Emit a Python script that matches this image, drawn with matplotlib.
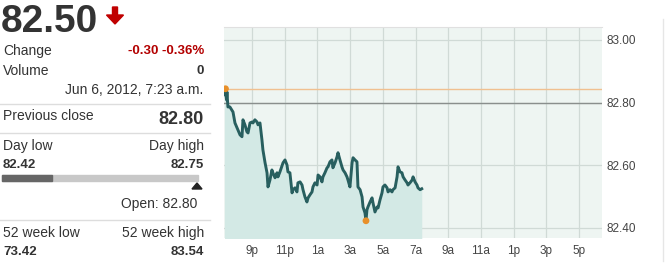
import matplotlib
matplotlib.use('Agg')
import matplotlib.pyplot as plt
from matplotlib.patches import Rectangle, FancyArrow, Polygon
from matplotlib.transforms import IdentityTransform

plt.rcParams['font.family'] = ['Liberation Sans', 'DejaVu Sans']

# intraday quote, hours since midnight of Jun 5 (24 = midnight)
hours = [19.32, 19.38, 19.44, 19.47, 19.53, 19.65, 19.84, 19.96, 20.14, 20.27,
         20.39, 20.45, 20.57, 20.69, 20.76, 20.88, 21.00, 21.06, 21.18, 21.31,
         21.37, 21.49, 21.61, 21.67, 21.80, 21.92, 21.98, 22.10, 22.22, 22.28,
         22.41, 22.53, 22.59, 22.71, 22.90, 23.02, 23.14, 23.20, 23.32, 23.45,
         23.51, 23.63, 23.75, 23.81, 23.94, 24.06, 24.12, 24.24, 24.36, 24.43,
         24.55, 24.67, 24.73, 24.85, 24.98, 25.04, 25.16, 25.28, 25.34, 25.46,
         25.59, 25.65, 25.77, 25.89, 25.95, 26.08, 26.20, 26.26, 26.38, 26.50,
         26.57, 26.69, 26.81, 26.87, 26.99, 27.12, 27.18, 27.30, 27.42, 27.48,
         27.61, 27.73, 27.79, 27.91, 27.97, 28.03, 28.09, 28.22, 28.34, 28.40,
         28.52, 28.65, 28.71, 28.83, 28.95, 29.01, 29.13, 29.26, 29.32, 29.44,
         29.56, 29.62, 29.75, 29.87, 29.93, 30.05, 30.17, 30.24, 30.36, 30.48,
         30.54, 30.66, 30.79, 30.85, 30.97, 31.09, 31.15, 31.28, 31.38]
prices = [82.825, 82.844, 82.809, 82.834, 82.786, 82.786, 82.770, 82.735, 82.713, 82.697,
          82.691, 82.745, 82.729, 82.707, 82.703, 82.735, 82.738, 82.735, 82.745, 82.738,
          82.729, 82.735, 82.681, 82.649, 82.608, 82.576, 82.531, 82.553, 82.585, 82.576,
          82.560, 82.576, 82.563, 82.579, 82.608, 82.617, 82.601, 82.579, 82.576, 82.512,
          82.522, 82.528, 82.515, 82.544, 82.547, 82.537, 82.522, 82.499, 82.483, 82.496,
          82.506, 82.515, 82.531, 82.544, 82.537, 82.569, 82.563, 82.547, 82.563, 82.576,
          82.592, 82.595, 82.611, 82.617, 82.592, 82.608, 82.627, 82.640, 82.617, 82.595,
          82.585, 82.576, 82.563, 82.553, 82.531, 82.608, 82.624, 82.617, 82.611, 82.531,
          82.522, 82.499, 82.467, 82.448, 82.423, 82.458, 82.467, 82.483, 82.496, 82.480,
          82.451, 82.467, 82.464, 82.490, 82.512, 82.531, 82.537, 82.528, 82.515, 82.522,
          82.515, 82.522, 82.528, 82.563, 82.595, 82.579, 82.576, 82.563, 82.553, 82.544,
          82.537, 82.544, 82.553, 82.563, 82.547, 82.537, 82.528, 82.522, 82.525]
prev_close = 82.80
ref_level = 82.844
tick_hours = [21, 23, 25, 27, 29, 31, 33, 35, 37, 39, 41]
tick_labels = ['9p', '11p', '1a', '3a', '5a', '7a', '9a', '11a', '1p', '3p', '5p']
y_ticks = [82.40, 82.60, 82.80, 83.00]

W, H = 668, 266
fig = plt.figure(figsize=(W / 100, H / 100), dpi=100)
fig.patch.set_facecolor('white')


def px(x, y):
    return x / W, 1 - y / H


def txt(x, y, s, size=9, color='#333333', ha='left', weight='normal', va='center'):
    fx, fy = px(x, y)
    fig.text(fx, fy, s, fontsize=size, color=color, ha=ha, va=va, fontweight=weight)


# ---- left quote panel ----
txt(1, 32, '82.50', size=28, weight='bold', va='baseline')
fig.patches.append(FancyArrow(115, H - 7, 0, -17, width=5, head_width=17, head_length=9,
                              length_includes_head=True, color='#c00000',
                              transform=IdentityTransform(), figure=fig))
txt(3, 51, 'Change', size=10)
txt(204, 51, '-0.30 -0.36%', size=9.5, color='#b30000', ha='right', weight='bold')
txt(3, 71, 'Volume', size=10)
txt(204, 71, '0', size=9.5, ha='right', weight='bold')
txt(203, 90, 'Jun 6, 2012, 7:23 a.m.', size=10, ha='right')
txt(3, 116, 'Previous close', size=10)
txt(204, 119, '82.80', size=13, ha='right', weight='bold')
txt(3, 146, 'Day low', size=10)
txt(204, 146, 'Day high', size=10, ha='right')
txt(3, 165, '82.42', size=9.5, weight='bold')
txt(204, 165, '82.75', size=9.5, ha='right', weight='bold')
txt(197, 204, 'Open: 82.80', size=10, ha='right')
txt(3, 233, '52 week low', size=10)
txt(204, 233, '52 week high', size=10, ha='right')
txt(3, 252, '73.42', size=9.5, weight='bold')
txt(204, 252, '83.54', size=9.5, ha='right', weight='bold')

for yy in [104, 133, 220]:
    fig.lines.append(plt.Line2D([0, 210 / W], [1 - yy / H] * 2, color='#dddddd', lw=1,
                                transform=fig.transFigure, figure=fig))

bx, by = px(2, 181)
fig.patches.append(Rectangle((bx, by), 196 / W, 6 / H, color='#c8c8c8',
                             transform=fig.transFigure, figure=fig))
fig.patches.append(Rectangle((bx, by), 50 / W, 6 / H, color='#666666',
                             transform=fig.transFigure, figure=fig))
fig.patches.append(Polygon([(192, H - 189), (202, H - 189), (197, H - 183)], closed=True,
                           color='#222222', transform=IdentityTransform(), figure=fig))

# ---- chart ----
l, b = px(224, 238)
r, t = px(602, 27)
ax = fig.add_axes([l, b, r - l, t - b])
ax.set_facecolor('#eef5f2')
ax.fill_between(hours, prices, 82.30, color='#d3e9e5', lw=0)
ax.axhline(ref_level, color='#f0c090', lw=1, zorder=2)
ax.axhline(prev_close, color='#8a8f8d', lw=1, zorder=2)
ax.plot(hours, prices, color='#285f5f', lw=2.1, zorder=3)
ax.scatter([hours[1], hours[84]], [prices[1], prices[84]], s=24, color='#e8902a', zorder=4,
           edgecolors='none')

ax.set_xlim(19.29, 42.40)
ax.set_ylim(82.368, 83.041)
ax.set_xticks(tick_hours)
ax.set_xticklabels(tick_labels)
ax.set_yticks(y_ticks)
ax.set_yticklabels(['%.2f' % v for v in y_ticks])
ax.yaxis.tick_right()
ax.tick_params(axis='both', length=0, labelsize=8.5, colors='#444444')
ax.tick_params(axis='x', pad=5)
ax.tick_params(axis='y', pad=3)
ax.grid(True, color='#d0dad6', lw=0.9)
ax.set_axisbelow(True)
for side in ['left', 'bottom', 'right']:
    ax.spines[side].set_visible(False)
ax.spines['top'].set_color('#e0e0e0')

fig.lines.append(plt.Line2D([663 / W] * 2, [0.02, 0.93], color='#e6e6e6', lw=1,
                            transform=fig.transFigure, figure=fig))

fig.savefig('out.png', dpi=100)
